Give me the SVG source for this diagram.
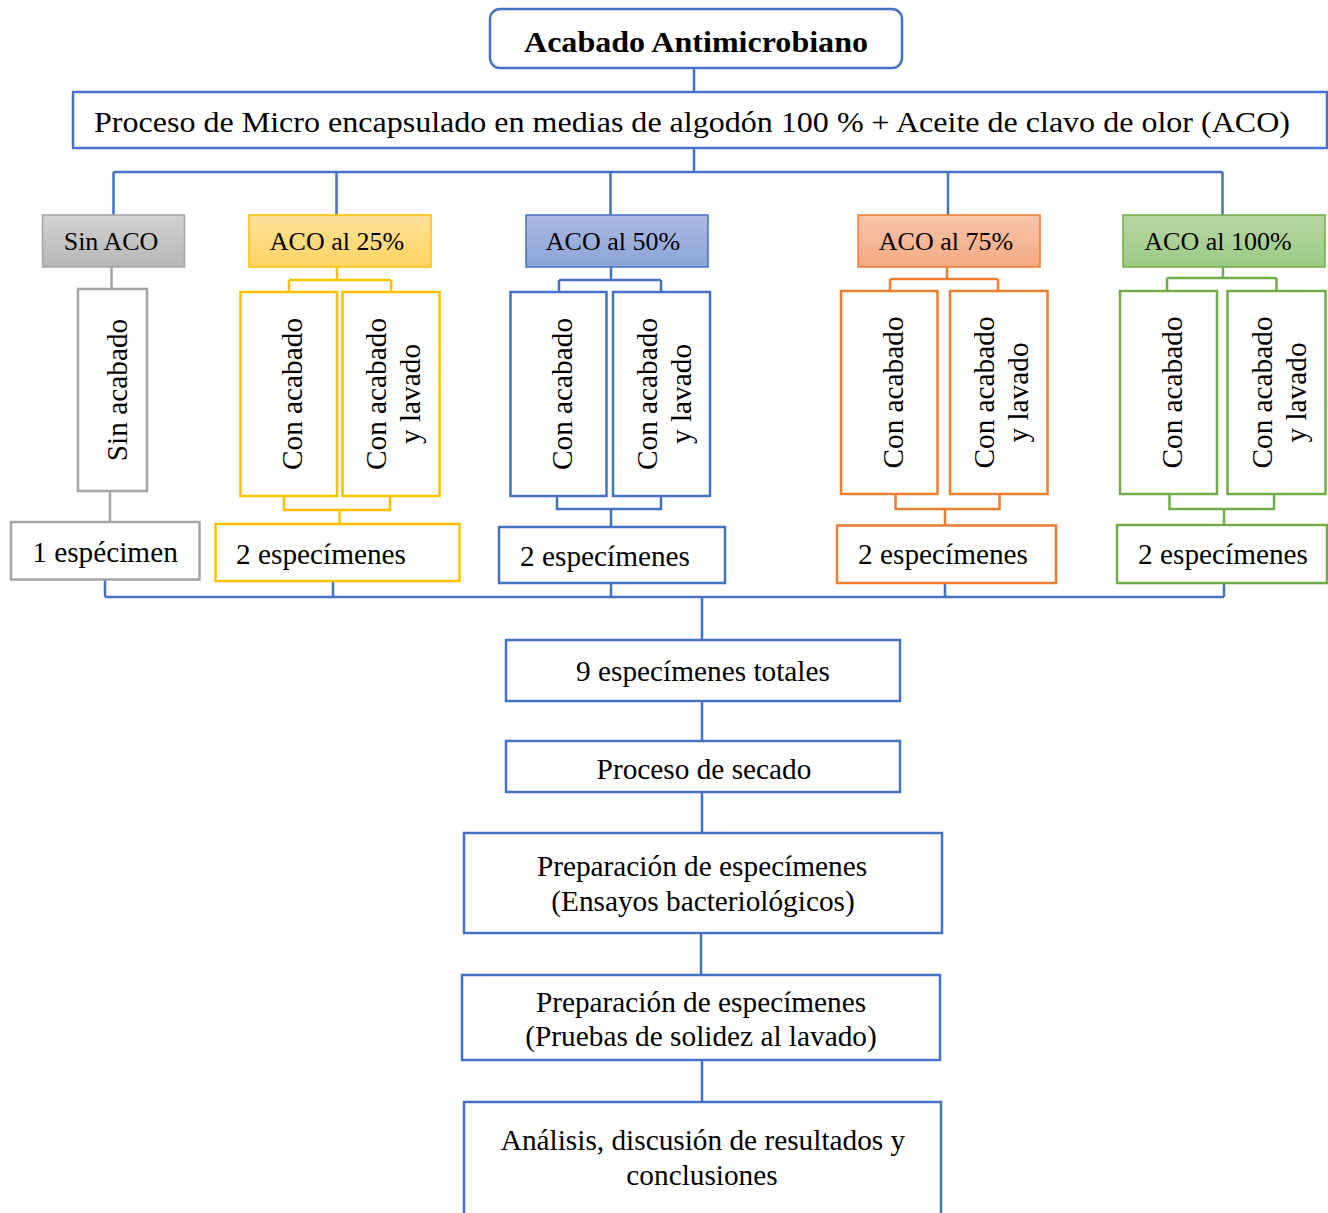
<svg xmlns="http://www.w3.org/2000/svg" width="1328" height="1213" viewBox="0 0 1328 1213">
<defs>
<linearGradient id="gGray" x1="0" y1="0" x2="0" y2="1"><stop offset="0" stop-color="#d2d2d2"/><stop offset="1" stop-color="#b6b6b6"/></linearGradient>
<linearGradient id="gYel" x1="0" y1="0" x2="0" y2="1"><stop offset="0" stop-color="#ffe09a"/><stop offset="1" stop-color="#ffd462"/></linearGradient>
<linearGradient id="gBlue" x1="0" y1="0" x2="0" y2="1"><stop offset="0" stop-color="#abbae2"/><stop offset="1" stop-color="#8ca4d8"/></linearGradient>
<linearGradient id="gOra" x1="0" y1="0" x2="0" y2="1"><stop offset="0" stop-color="#f8c6ab"/><stop offset="1" stop-color="#f4a882"/></linearGradient>
<linearGradient id="gGre" x1="0" y1="0" x2="0" y2="1"><stop offset="0" stop-color="#b8d8a4"/><stop offset="1" stop-color="#9cc986"/></linearGradient>
</defs>
<style>
text{font-family:"Liberation Serif","Times New Roman",serif;fill:#000;}
.t29{font-size:29.3px;}
.t26{font-size:26px;}
.mid{text-anchor:middle;}
.box{fill:#fff;stroke-width:2.5;}
.bl{stroke:#4472c4;}
.gr{stroke:#a5a5a5;}
.ye{stroke:#ffc000;}
.or{stroke:#ed7d31;}
.gn{stroke:#70ad47;}
.ln{fill:none;stroke-width:2.5;}
</style>
<g id="connectors">
<path class="ln bl" d="M694,68V92 M694,148V172 M113.5,172H1222.5 M113.5,172V215 M336.5,172V215 M610.5,172V215 M948,172V215 M1222.5,172V215"/>
<path class="ln gr" d="M111.5,267V289 M110,491V522"/>
<path class="ln ye" d="M337,267V280 M289,280H391 M289,280V292 M391,280V292 M284,496V510H390V496 M339.5,510V524"/>
<path class="ln bl" d="M611,267V280 M559,280H661 M559,280V292 M661,280V292 M557,496V509H661V496 M611,509V527"/>
<path class="ln or" d="M947,267V279 M890,279H998 M890,279V291 M998,279V291 M895.5,494V509H999.5V494 M945,509V525"/>
<path class="ln gn" d="M1223,267V278 M1167,278H1276.5 M1167,278V291 M1276.5,278V291 M1169.5,494V509H1274V494 M1224,509V524"/>
<path class="ln bl" d="M105,580V597 M333,581V597 M611,583V597 M945,583V597 M1224,583V597 M105,597H1224 M702,597V640 M702,701V741 M702,792V833 M701,933V975 M702,1060V1102"/>
</g>
<g id="n-title"><rect class="box bl" x="490" y="9" width="412" height="59" rx="10"/><text x="524" y="52" style="font-size:30px;font-weight:bold" textLength="344" lengthAdjust="spacingAndGlyphs">Acabado Antimicrobiano</text></g>
<g id="n-proceso"><rect class="box bl" x="73" y="92" width="1254" height="56"/><text x="94" y="132" class="t29" textLength="1196" lengthAdjust="spacingAndGlyphs">Proceso de Micro encapsulado en medias de algodón 100 % + Aceite de clavo de olor (ACO)</text></g>

<g id="n-sinaco"><rect class="gr" x="42.5" y="215" width="142" height="52" fill="url(#gGray)" stroke-width="1.5"/><text class="t26 mid" x="111" y="250">Sin ACO</text></g>
<g id="n-aco25"><rect class="ye" x="249" y="215" width="182" height="52" fill="url(#gYel)" stroke-width="1.5"/><text class="t26 mid" x="337" y="250">ACO al 25%</text></g>
<g id="n-aco50"><rect class="bl" x="526" y="215" width="182" height="52" fill="url(#gBlue)" stroke-width="1.5"/><text class="t26 mid" x="613" y="250">ACO al 50%</text></g>
<g id="n-aco75"><rect class="or" x="858" y="215" width="182" height="52" fill="url(#gOra)" stroke-width="1.5"/><text class="t26 mid" x="946" y="250">ACO al 75%</text></g>
<g id="n-aco100"><rect class="gn" x="1123" y="215" width="202" height="52" fill="url(#gGre)" stroke-width="1.5"/><text class="t26 mid" x="1218" y="250">ACO al 100%</text></g>

<g id="n-sinacabado"><rect class="box gr" x="78" y="289" width="69" height="202"/><text class="t29 mid" x="0" y="14" transform="translate(112.5,390) rotate(-90)">Sin acabado</text></g>

<g id="n-25a"><rect class="box ye" x="240.5" y="292" width="96.5" height="204"/><text class="t29 mid" x="0" y="13.5" transform="translate(288.5,394) rotate(-90)">Con acabado</text></g>
<g id="n-25b"><rect class="box ye" x="342.5" y="292" width="97" height="204"/><text class="t29 mid" transform="translate(391,394) rotate(-90)"><tspan x="0" y="-5">Con acabado</tspan><tspan x="0" y="29">y lavado</tspan></text></g>

<g id="n-50a"><rect class="box bl" x="510.5" y="292" width="96" height="204"/><text class="t29 mid" x="0" y="13.5" transform="translate(558.5,394) rotate(-90)">Con acabado</text></g>
<g id="n-50b"><rect class="box bl" x="613" y="292" width="97" height="204"/><text class="t29 mid" transform="translate(661.5,394) rotate(-90)"><tspan x="0" y="-5">Con acabado</tspan><tspan x="0" y="29">y lavado</tspan></text></g>

<g id="n-75a"><rect class="box or" x="841" y="291" width="96.5" height="203"/><text class="t29 mid" x="0" y="13.5" transform="translate(889,392.5) rotate(-90)">Con acabado</text></g>
<g id="n-75b"><rect class="box or" x="950" y="291" width="97.5" height="203"/><text class="t29 mid" transform="translate(998.5,392.5) rotate(-90)"><tspan x="0" y="-5">Con acabado</tspan><tspan x="0" y="29">y lavado</tspan></text></g>

<g id="n-100a"><rect class="box gn" x="1120" y="291" width="97" height="203"/><text class="t29 mid" x="0" y="13.5" transform="translate(1168.5,392.5) rotate(-90)">Con acabado</text></g>
<g id="n-100b"><rect class="box gn" x="1227.5" y="291" width="98" height="203"/><text class="t29 mid" transform="translate(1276.5,392.5) rotate(-90)"><tspan x="0" y="-5">Con acabado</tspan><tspan x="0" y="29">y lavado</tspan></text></g>

<g id="n-esp1"><rect class="box gr" x="11" y="522" width="188.5" height="57.5"/><text class="t29 mid" x="105" y="562">1 espécimen</text></g>
<g id="n-esp25"><rect class="box ye" x="215.5" y="524" width="244" height="57"/><text class="t29" x="236" y="564">2 especímenes</text></g>
<g id="n-esp50"><rect class="box bl" x="499" y="527" width="226" height="56"/><text class="t29" x="520" y="566">2 especímenes</text></g>
<g id="n-esp75"><rect class="box or" x="837" y="525.5" width="219" height="57.5"/><text class="t29" x="858" y="564">2 especímenes</text></g>
<g id="n-esp100"><rect class="box gn" x="1117" y="525" width="210" height="58"/><text class="t29" x="1138" y="564">2 especímenes</text></g>

<g id="n-total"><rect class="box bl" x="506" y="640" width="394" height="61"/><text class="t29 mid" x="703" y="681">9 especímenes totales</text></g>
<g id="n-secado"><rect class="box bl" x="506" y="741" width="394" height="51"/><text class="t29 mid" x="704" y="779">Proceso de secado</text></g>
<g id="n-prep1"><rect class="box bl" x="464" y="833" width="478" height="100"/><text class="t29 mid" x="702" y="876">Preparación de especímenes</text><text class="t29 mid" x="703" y="911">(Ensayos bacteriológicos)</text></g>
<g id="n-prep2"><rect class="box bl" x="462" y="975" width="478" height="85"/><text class="t29 mid" x="701" y="1012">Preparación de especímenes</text><text class="t29 mid" x="701" y="1046">(Pruebas de solidez al lavado)</text></g>
<g id="n-analisis"><rect class="box bl" x="464" y="1102" width="477" height="130"/><text class="t29 mid" x="703" y="1150">Análisis, discusión de resultados y</text><text class="t29 mid" x="702" y="1185">conclusiones</text></g>
</svg>
